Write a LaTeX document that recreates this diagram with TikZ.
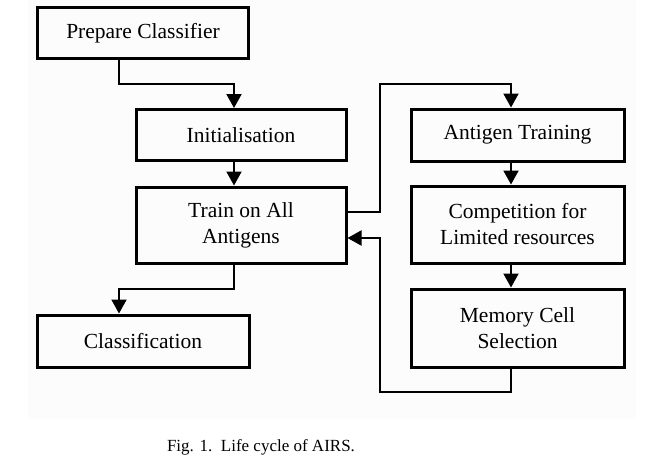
\documentclass[tikz,border=0pt]{standalone}
\usepackage{fontspec}
\setmainfont{Liberation Serif}
\usetikzlibrary{arrows.meta}
\begin{document}
\begin{tikzpicture}[x=1pt,y=-1pt,
  box/.style={draw,line width=3pt,inner sep=0pt,align=center,font=\fontsize{21.5}{26}\selectfont},
  conn/.style={line width=2pt,-{Triangle[width=15pt,length=14pt]}},
  plain/.style={line width=2pt}]
\useasboundingbox (0,0) rectangle (647,472);
\fill[black!1] (28,0) rectangle (636,419);
\node[box,minimum width=211pt,minimum height=51pt] (prep) at (143,33) {Prepare Classifier};
\node[box,minimum width=210pt,minimum height=51pt] (init) at (241,135) {Initialisation};
\node[box,minimum width=210pt,minimum height=76pt] (train) at (241,225) {Train on All\\Antigens};
\node[box,minimum width=212pt,minimum height=52pt] (class) at (143,341) {Classification};
\node[box,minimum width=213pt,minimum height=52pt] (antig) at (517.5,135) {Antigen Training};
\node[box,minimum width=213pt,minimum height=77pt] (comp) at (517.5,224.5) {Competition for\\Limited resources};
\node[box,minimum width=213pt,minimum height=78pt] (mem) at (517.5,328) {Memory Cell\\Selection};
\node[font=\fontsize{17}{20}\selectfont] (cap) at (261,447) {Fig. 1.\ \ Life cycle of AIRS.};
\coordinate (a1) at (119,84);
\coordinate (a2) at (234,84);
\coordinate (b1) at (234,289);
\coordinate (b2) at (119,289);
\coordinate (t1) at (380,212);
\coordinate (t2) at (380,84);
\coordinate (t3) at (511,84);
\coordinate (m1) at (511,392);
\coordinate (m2) at (380,392);
\coordinate (m3) at (380,238);
\draw[conn] (prep.south -| a1) -- (a1) -- (a2) -- (init.north -| a2);
\draw[conn] (init.south -| a2) -- (train.north -| a2);
\draw[conn] (train.south -| b1) -- (b1) -- (b2) -- (class.north -| b2);
\draw[conn] (train.east |- t1) -- (t1) -- (t2) -- (t3) -- (antig.north -| t3);
\draw[conn] (antig.south -| t3) -- (comp.north -| t3);
\draw[conn] (comp.south -| t3) -- (mem.north -| t3);
\draw[conn] (mem.south -| m1) -- (m1) -- (m2) -- (m3) -- (train.east |- m3);
\end{tikzpicture}
\end{document}
